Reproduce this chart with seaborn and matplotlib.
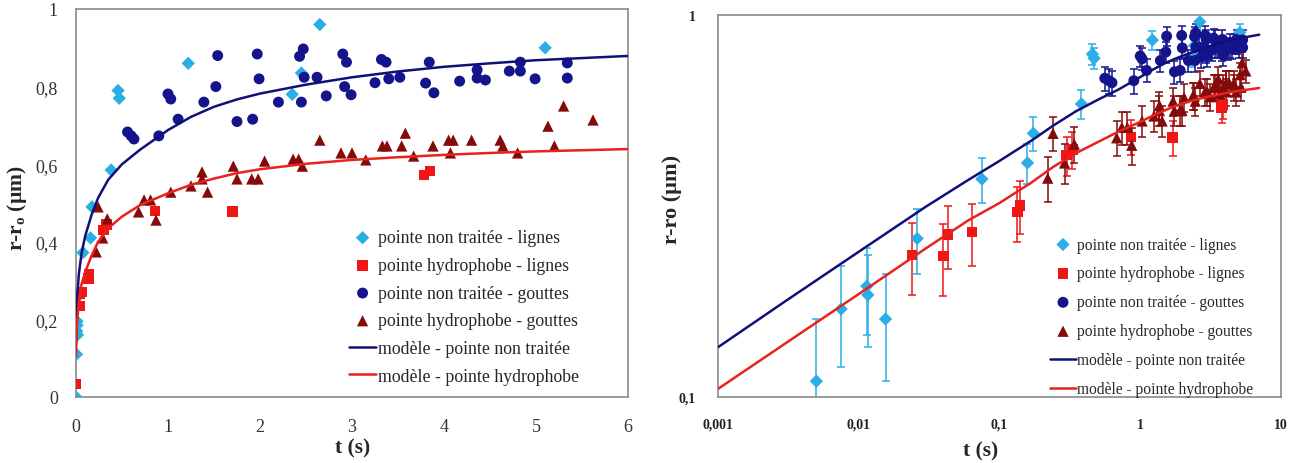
import numpy as np
import matplotlib
matplotlib.use("Agg")
import matplotlib.pyplot as plt
import seaborn as sns

sns.set_style("white")
plt.rcParams["font.family"] = ["Liberation Serif", "DejaVu Serif"]
plt.rcParams["mathtext.fontset"] = "custom"
plt.rcParams["mathtext.rm"] = "Liberation Serif"

# ---- measurements: t (s) and r - r0 (um) ----
# untreated tip, lines
lignes_nt_t = [0.0, 0.005, 0.0075, 0.0114, 0.0116, 0.0155, 0.026, 0.075, 0.158, 0.174,
               0.382, 0.457, 0.47, 1.22, 2.35, 2.45, 2.65, 5.1]
lignes_nt_r = [0.0, 0.11, 0.17, 0.195, 0.185, 0.16, 0.26, 0.372, 0.41, 0.49,
               0.585, 0.79, 0.77, 0.86, 0.78, 0.835, 0.96, 0.90]
# hydrophobic tip, lines
lignes_hy_t = [0.0, 0.024, 0.040, 0.043, 0.064, 0.134, 0.14, 0.30, 0.33, 0.86, 1.70, 3.78, 3.85]
lignes_hy_r = [0.034, 0.235, 0.234, 0.266, 0.27, 0.305, 0.317, 0.43, 0.445, 0.48, 0.478, 0.572, 0.583]
# untreated tip, drops
gouttes_nt_t = [0.56, 0.60, 0.63, 0.90, 1.0, 1.03, 1.11, 1.39, 1.52, 1.54, 1.75, 1.92, 1.97, 1.99,
                2.20, 2.43, 2.47, 2.48, 2.45, 2.62, 2.72, 2.90, 2.94, 2.92, 2.99, 3.25, 3.32,
                3.37, 3.40, 3.52, 3.80, 3.84, 3.89, 4.17, 4.36, 4.36, 4.45, 4.71, 4.83, 4.83,
                4.99, 5.34, 5.34]
gouttes_nt_r = [0.683, 0.673, 0.665, 0.673, 0.781, 0.768, 0.716, 0.76, 0.80, 0.88, 0.71, 0.716,
                0.884, 0.82, 0.76, 0.878, 0.897, 0.824, 0.76, 0.824, 0.776, 0.884, 0.863, 0.80,
                0.779, 0.81, 0.87, 0.863, 0.82, 0.824, 0.809, 0.863, 0.784, 0.814, 0.843,
                0.822, 0.817, 0.84, 0.863, 0.84, 0.82, 0.861, 0.822]
# hydrophobic tip, drops
gouttes_hy_t = [0.22, 0.24, 0.29, 0.34, 0.68, 0.74, 0.81, 0.87, 1.03, 1.25, 1.37, 1.37, 1.43,
                1.71, 1.75, 1.91, 1.98, 2.05, 2.36, 2.42, 2.46, 2.65, 2.88, 3.0, 3.15, 3.33,
                3.38, 3.54, 3.58, 3.67, 3.88, 4.05, 4.10, 4.07, 4.30, 4.61, 4.64, 4.80, 5.13,
                5.20, 5.30, 5.62]
gouttes_hy_r = [0.374, 0.49, 0.41, 0.459, 0.477, 0.508, 0.508, 0.456, 0.528, 0.544, 0.58, 0.562,
                0.528, 0.595, 0.562, 0.562, 0.562, 0.608, 0.613, 0.613, 0.595, 0.662, 0.629,
                0.629, 0.611, 0.647, 0.647, 0.647, 0.68, 0.621, 0.647, 0.662, 0.662, 0.629,
                0.662, 0.662, 0.647, 0.629, 0.698, 0.647, 0.75, 0.714]

# error bar half-widths (um)
lignes_nt_err = 0.05
lignes_hy_err = 0.05
gouttes_nt_err = 0.05
gouttes_hy_err = 0.05

# model curves
model_t = [0.001, 0.003, 0.01, 0.03, 0.06, 0.1, 0.17, 0.24, 0.35, 0.5, 0.7, 1.0, 1.25, 1.5,
           1.75, 2.0, 2.5, 3.0, 3.5, 4.0, 4.5, 5.0, 6.0, 7.0]
model_nt = [0.135, 0.178, 0.24, 0.315, 0.37, 0.415, 0.47, 0.513, 0.56, 0.60, 0.638, 0.688,
            0.722, 0.748, 0.767, 0.782, 0.805, 0.824, 0.839, 0.851, 0.86, 0.868, 0.879, 0.888]
model_hy = [0.105, 0.138, 0.186, 0.245, 0.29, 0.322, 0.365, 0.40, 0.435, 0.465, 0.495, 0.525,
            0.547, 0.563, 0.577, 0.587, 0.601, 0.611, 0.618, 0.624, 0.629, 0.633, 0.639, 0.644]

labels = ["pointe non traitée - lignes", "pointe hydrophobe - lignes",
          "pointe non traitée - gouttes", "pointe hydrophobe - gouttes",
          "modèle - pointe non traitée", "modèle - pointe hydrophobe"]

C_LNT = "#2aaee6"
C_LHY = "#f01616"
C_GNT = "#14148c"
C_GHY = "#850a0a"
C_MNT = "#10107a"
C_MHY = "#e8221c"
SPINE = "#8a8a8a"

series = [
    (lignes_nt_t, lignes_nt_r, lignes_nt_err, C_LNT, "D", 46),
    (lignes_hy_t, lignes_hy_r, lignes_hy_err, C_LHY, "s", 56),
    (gouttes_nt_t, gouttes_nt_r, gouttes_nt_err, C_GNT, "o", 62),
    (gouttes_hy_t, gouttes_hy_r, gouttes_hy_err, C_GHY, "^", 66),
]

W, H = 1297, 464
fig = plt.figure(figsize=(W / 100, H / 100), dpi=100)
ax1 = fig.add_axes([76 / W, (H - 398) / H, 552 / W, 388 / H])
ax2 = fig.add_axes([718 / W, (H - 398) / H, 563 / W, 382 / H])


def draw(ax, logscale):
    for (t, r, err, col, mk, size), lab in zip(series, labels[:4]):
        t = np.asarray(t)
        r = np.asarray(r)
        if logscale:
            keep = (t > 0) & (r > 0)
            t, r = t[keep], r[keep]
            ax.errorbar(t, r, yerr=err, fmt="none", ecolor=col, elinewidth=1.1,
                        capsize=3, capthick=1.1, zorder=2)
        sns.scatterplot(x=t, y=r, marker=mk, color=col, s=size, edgecolor="none",
                        linewidth=0, label=lab, ax=ax, zorder=3)
    sns.lineplot(x=model_t, y=model_nt, color=C_MNT, lw=1.8, sort=False,
                 estimator=None, label=labels[4], ax=ax, zorder=4)
    sns.lineplot(x=model_t, y=model_hy, color=C_MHY, lw=1.8, sort=False,
                 estimator=None, label=labels[5], ax=ax, zorder=4)
    for sp in ax.spines.values():
        sp.set_visible(True)
        sp.set_color(SPINE)
        sp.set_linewidth(1.2)


# ---- left: linear axes ----
draw(ax1, False)
ax1.set_xlim(0, 6)
ax1.set_ylim(0, 1)
ax1.set_xticks(range(0, 7))
ax1.set_yticks([0, 0.2, 0.4, 0.6, 0.8, 1.0])
ax1.set_yticklabels(["0", "0,2", "0,4", "0,6", "0,8", "1"])
ax1.tick_params(axis="both", direction="out", length=5, width=1, color=SPINE,
                labelsize=13, labelcolor="#333333")
ax1.tick_params(axis="x", pad=10)
ax1.tick_params(axis="y", pad=8)
ax1.set_xlabel("t (s)", fontsize=15.5, fontweight="bold")
ax1.xaxis.set_label_coords(0.502, -0.105)
ax1.set_ylabel(r"r-r$_\mathregular{o}$ (µm)", fontsize=15.5, fontweight="bold")
ax1.yaxis.set_label_coords(-0.085, 0.49)
ax1.legend(loc="upper left", bbox_to_anchor=(0.495, 0.432), frameon=False,
           fontsize=12.8, labelspacing=0.6, handlelength=1.5, handletextpad=0.1,
           borderpad=0, borderaxespad=0)

# ---- right: log-log axes ----
draw(ax2, True)
ax2.set_xscale("log")
ax2.set_yscale("log")
ax2.set_xlim(0.001, 10)
ax2.set_ylim(0.1, 1)
ax2.set_xticks([0.001, 0.01, 0.1, 1, 10])
ax2.set_xticklabels(["0,001", "0,01", "0,1", "1", "10"])
ax2.set_yticks([0.1, 1])
ax2.set_yticklabels(["0,1", "1"])
ax2.xaxis.set_minor_locator(matplotlib.ticker.NullLocator())
ax2.yaxis.set_minor_locator(matplotlib.ticker.NullLocator())
ax2.tick_params(axis="both", direction="out", length=4, width=1, color=SPINE,
                labelsize=10, labelcolor="#222222")
for lab in ax2.get_xticklabels() + ax2.get_yticklabels():
    lab.set_fontweight("bold")
ax2.tick_params(axis="x", pad=11)
ax2.tick_params(axis="y", pad=12)
ax2.set_xlabel("t (s)", fontsize=15.5, fontweight="bold")
ax2.xaxis.set_label_coords(0.466, -0.113)
ax2.set_ylabel("r-ro (µm)", fontsize=16, fontweight="bold")
ax2.yaxis.set_label_coords(-0.064, 0.52)
ax2.legend(loc="upper left", bbox_to_anchor=(0.59, 0.42), frameon=False,
           fontsize=11.2, labelspacing=0.83, handlelength=1.65, handletextpad=0.1,
           borderpad=0, borderaxespad=0)

fig.savefig("out.png", dpi=100, facecolor="white")
